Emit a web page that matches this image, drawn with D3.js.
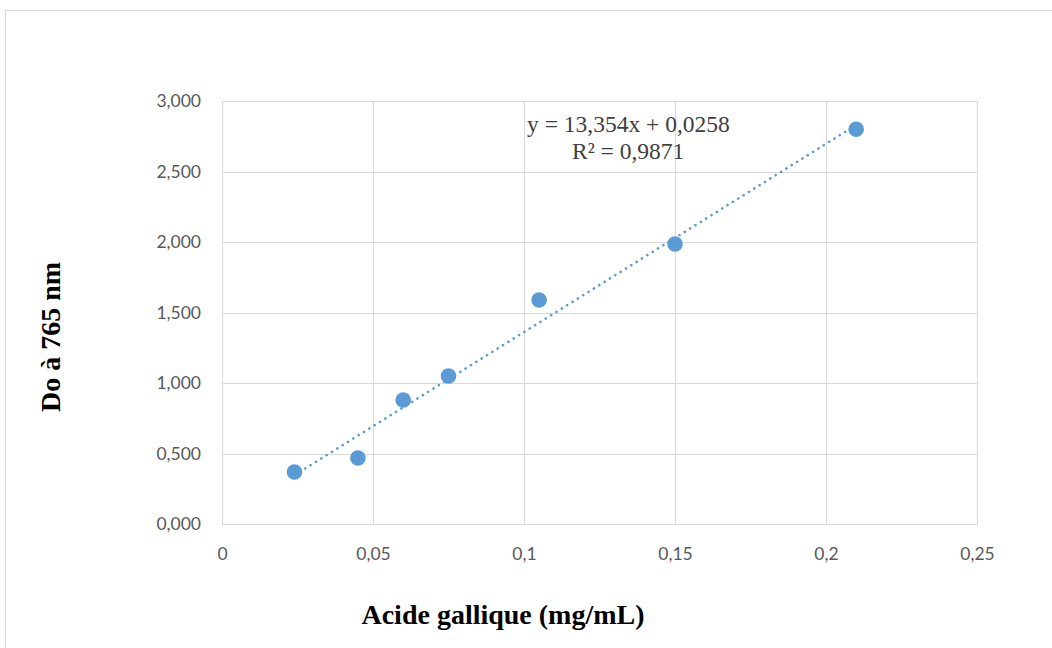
<!DOCTYPE html>
<html>
<head>
<meta charset="utf-8">
<script src="https://cdn.jsdelivr.net/npm/d3@7"></script>
<style>
  body { margin: 0; background: #fff; }
</style>
</head>
<body>
<div id="chart"></div>
<script>
(function (d3) {
    "use strict";

    /***** Données *****/
    const concentrations = [0.024, 0.045, 0.06, 0.075, 0.105, 0.15, 0.21];
    const absorbances = [0.369, 0.468, 0.879, 1.050, 1.589, 1.986, 2.800];
    const xTicks = [0, 0.05, 0.1, 0.15, 0.2, 0.25];
    const yTicks = [0, 0.5, 1, 1.5, 2, 2.5, 3];
    const slope = 13.354, intercept = 0.0258;
    const equationLabel = "y = 13,354x + 0,0258";
    const r2Label = "R² = 0,9871";

    /***** Configuration *****/
    const width = 1052, height = 648;
    const margin = { top: 101, right: 75, bottom: 124, left: 222 };
    const blue = "#5B9BD5";

    const svg = d3.select("#chart").append("svg")
        .attr("width", width)
        .attr("height", height);

    // cadre du graphique
    svg.append("rect")
        .attr("x", 5.5).attr("y", 10.5)
        .attr("width", width + 20).attr("height", height + 20)
        .attr("fill", "none").attr("stroke", "#d9d9d9");

    const x = d3.scaleLinear().domain([0, 0.25]).range([margin.left, width - margin.right]);
    const y = d3.scaleLinear().domain([0, 3]).range([height - margin.bottom, margin.top]);

    const comma = s => s.replace(".", ",");

    // grille
    svg.append("g").selectAll("line").data(yTicks).join("line")
        .attr("x1", x(0)).attr("x2", x(0.25))
        .attr("y1", d => Math.round(y(d)) + 0.5).attr("y2", d => Math.round(y(d)) + 0.5)
        .attr("stroke", "#d9d9d9").attr("stroke-width", 1);
    svg.append("g").selectAll("line").data(xTicks).join("line")
        .attr("y1", y(0)).attr("y2", y(3))
        .attr("x1", d => Math.round(x(d)) + 0.5).attr("x2", d => Math.round(x(d)) + 0.5)
        .attr("stroke", "#d9d9d9").attr("stroke-width", 1);

    // axes
    const xAxis = d3.axisBottom(x).tickValues(xTicks)
        .tickFormat(d => comma(String(+d.toFixed(2)))).tickSize(0).tickPadding(24);
    const yAxis = d3.axisLeft(y).tickValues(yTicks)
        .tickFormat(d => comma(d3.format(".3f")(d))).tickSize(0).tickPadding(21);

    const gx = svg.append("g").attr("transform", `translate(0,${y(0)})`).call(xAxis);
    const gy = svg.append("g").attr("transform", `translate(${x(0)},0)`).call(yAxis);
    [gx, gy].forEach(g => {
        g.select(".domain").attr("stroke", "#d9d9d9");
        g.selectAll("text")
            .attr("fill", "#595959")
            .style("font-family", "Lato, 'Open Sans', sans-serif")
            .style("font-size", "17.5px");
    });
    gy.select(".domain").remove();

    // courbe de tendance
    const xMin = d3.min(concentrations), xMax = d3.max(concentrations);
    svg.append("line")
        .attr("x1", x(xMin)).attr("y1", y(slope * xMin + intercept))
        .attr("x2", x(xMax)).attr("y2", y(slope * xMax + intercept))
        .attr("stroke", blue).attr("stroke-width", 2.6)
        .attr("stroke-dasharray", "0.1 6.2").attr("stroke-linecap", "round");

    // points
    svg.append("g").selectAll("circle").data(concentrations).join("circle")
        .attr("cx", d => x(d))
        .attr("cy", (d, i) => y(absorbances[i]))
        .attr("r", 7.8)
        .attr("fill", blue);

    // équation
    const eq = svg.append("g")
        .style("font-family", "'Liberation Serif', 'Times New Roman', serif")
        .style("font-size", "23.5px").attr("fill", "#404040");
    eq.append("text").attr("x", 527).attr("y", 132).text(equationLabel);
    eq.append("text").attr("x", 572).attr("y", 159).text(r2Label);

    // titres des axes
    svg.append("text")
        .attr("x", 503).attr("y", 624)
        .attr("text-anchor", "middle")
        .style("font-family", "'Liberation Serif', 'Times New Roman', serif")
        .style("font-size", "28px").style("font-weight", "bold")
        .text("Acide gallique (mg/mL)");

    svg.append("text")
        .attr("transform", "translate(60,337) rotate(-90)")
        .attr("text-anchor", "middle")
        .style("font-family", "'Liberation Serif', 'Times New Roman', serif")
        .style("font-size", "28px").style("font-weight", "bold")
        .text("Do à 765 nm");

})(d3);
</script>
</body>
</html>
